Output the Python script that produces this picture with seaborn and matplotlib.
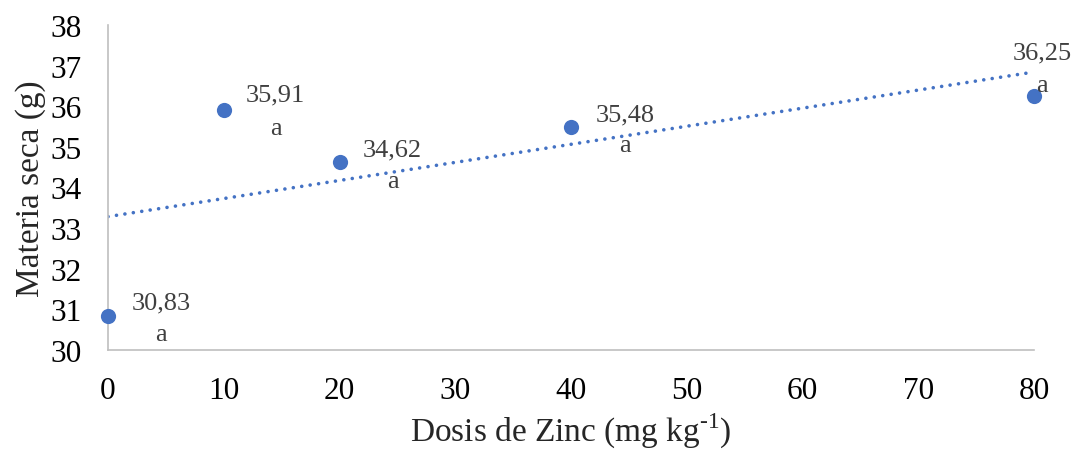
import matplotlib
matplotlib.use("Agg")
import matplotlib.pyplot as plt
import seaborn as sns
import pandas as pd

# Zinc dose (mg kg-1) and dry matter (g)
dosis = [0, 10, 20, 40, 80]
materia_seca = [30.83, 35.91, 34.62, 35.48, 36.25]
etiquetas = ["30,83", "35,91", "34,62", "35,48", "36,25"]
letras = ["a", "a", "a", "a", "a"]
x_ticks = [0, 10, 20, 30, 40, 50, 60, 70, 80]
y_ticks = [30, 31, 32, 33, 34, 35, 36, 37, 38]

df = pd.DataFrame({"dosis": dosis, "ms": materia_seca})

sns.set_style("white")
plt.rcParams["font.family"] = ["Liberation Serif", "DejaVu Serif"]
plt.rcParams["mathtext.fontset"] = "custom"
plt.rcParams["mathtext.rm"] = "Liberation Serif"

blue = "#4472C4"
fig = plt.figure(figsize=(10.73, 4.52), dpi=100)
ax = fig.add_axes([0.1007, 0.2235, 0.8630, 0.7190])

# linear trend line
sns.regplot(data=df, x="dosis", y="ms", ax=ax, ci=None, scatter=False,
            line_kws=dict(color=blue, lw=2.6, linestyle=(0, (0.01, 2.35)),
                          dash_capstyle="round"))
sns.scatterplot(data=df, x="dosis", y="ms", ax=ax, color=blue, s=120,
                edgecolor=blue, linewidth=0, zorder=3, clip_on=False)

# (dx, dy value, dy letter) in pixels from each point
offsets = [(53, 14, -18), (52, 15, -18), (53, 13, -19), (54, 13, -18), (8, 44, 11)]
for xi, yi, lab, let, (dx, dyv, dyl) in zip(dosis, materia_seca, etiquetas, letras, offsets):
    ax.annotate(lab, (xi, yi), xytext=(dx, dyv), textcoords="offset pixels",
                ha="center", va="center", fontsize=19, color="#404040",
                annotation_clip=False)
    ax.annotate(let, (xi, yi), xytext=(dx, dyl), textcoords="offset pixels",
                ha="center", va="center", fontsize=19, color="#404040",
                annotation_clip=False)

ax.set_xlim(0, 80)
ax.set_ylim(30, 38)
ax.set_xticks(x_ticks)
ax.set_yticks(y_ticks)
ax.tick_params(axis="both", length=0, labelsize=22.5, colors="black")
ax.tick_params(axis="x", pad=19)
ax.tick_params(axis="y", pad=19)

for side in ["top", "right"]:
    ax.spines[side].set_visible(False)
for side in ["left", "bottom"]:
    ax.spines[side].set_color("#BFBFBF")
    ax.spines[side].set_linewidth(1.2)

ax.set_xlabel(r"Dosis de Zinc (mg kg$^{\text{-1}}$)", fontsize=24, labelpad=4)
ax.set_ylabel("Materia seca (g)", fontsize=24, labelpad=3)

fig.savefig("out.png", dpi=100)
